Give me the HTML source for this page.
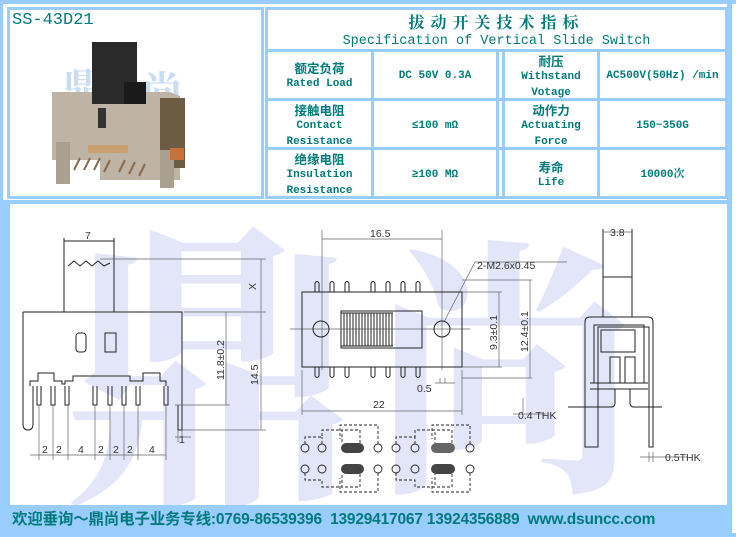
<!DOCTYPE html>
<html><head><meta charset="utf-8"><style>
html,body{margin:0;padding:0}
body{width:736px;height:537px;background:#fff;position:relative;overflow:hidden;font-family:"Liberation Mono","Noto Sans CJK SC",monospace;color:#007a7a}
.b{position:absolute;background:#99ccff}
.t{position:absolute;text-align:center;font-weight:bold;font-size:11px;line-height:16px;font-family:"Liberation Mono","Noto Serif CJK SC",monospace}
.c{display:inline-block;height:16px;line-height:16px;font-size:12.5px;font-family:"Noto Sans CJK SC",sans-serif;vertical-align:top}
</style></head><body>
<div class="b" style="left:0;top:0;width:736px;height:4px"></div>
<div class="b" style="left:0;top:0;width:3px;height:537px"></div>
<div class="b" style="left:727px;top:0;width:5px;height:537px"></div>
<div class="b" style="left:0;top:533px;width:736px;height:4px"></div>
<div class="b" style="left:7px;top:7px;width:3px;height:192px"></div>
<div class="b" style="left:7px;top:7px;width:257px;height:3px"></div>
<div class="b" style="left:7px;top:196px;width:257px;height:3px"></div>
<div class="b" style="left:261px;top:7px;width:3px;height:192px"></div>
<div class="b" style="left:265px;top:7px;width:3px;height:192px"></div>
<div class="b" style="left:265px;top:7px;width:462px;height:3px"></div>
<div class="b" style="left:265px;top:49px;width:462px;height:3px"></div>
<div class="b" style="left:265px;top:98px;width:462px;height:3px"></div>
<div class="b" style="left:265px;top:147px;width:462px;height:3px"></div>
<div class="b" style="left:265px;top:196px;width:462px;height:3px"></div>
<div class="b" style="left:371px;top:49px;width:3px;height:150px"></div>
<div class="b" style="left:496px;top:49px;width:3px;height:150px"></div>
<div class="b" style="left:502px;top:49px;width:3px;height:150px"></div>
<div class="b" style="left:597px;top:49px;width:3px;height:150px"></div>
<div class="b" style="left:725px;top:7px;width:3px;height:192px"></div>
<div class="b" style="left:3px;top:200px;width:726px;height:4px"></div>
<div class="b" style="left:3px;top:200px;width:7px;height:333px"></div>
<div class="b" style="left:3px;top:505px;width:726px;height:28px"></div>

<div style="position:absolute;left:12px;top:11px;font-size:17px;line-height:20px;font-family:'Liberation Mono',monospace;color:#007a7a">SS-43D21</div>
<svg style="position:absolute;left:10px;top:10px" width="250" height="186">
<text x="52" y="92" font-size="40" fill="#c8dcf2" font-family="Noto Serif CJK SC,serif" font-weight="bold">鼎</text>
<text x="132" y="95" font-size="40" fill="#c8dcf2" font-family="Noto Serif CJK SC,serif" font-weight="bold">尚</text>
<polygon points="42,82 160,82 170,86 170,170 90,170 90,150 42,150" fill="#bdb4a6"/>
<rect x="150" y="88" width="25" height="70" fill="#6d5c44"/>
<rect x="82" y="32" width="45" height="62" fill="#2a2a2a"/>
<rect x="114" y="72" width="22" height="22" fill="#1a1a1a"/>
<rect x="88" y="98" width="8" height="20" fill="#333"/>
<rect x="46" y="132" width="14" height="42" fill="#a9a090"/>
<rect x="150" y="140" width="14" height="38" fill="#a9a090"/>
<rect x="78" y="135" width="40" height="8" fill="#c9a070"/>
<rect x="160" y="138" width="14" height="12" fill="#c8703a"/>
<path d="M70 148 l-6 12 M80 148 l-6 12 M90 148 l-6 12 M100 150 l-6 12 M115 150 l-6 12 M125 152 l-6 12 M135 154 l-6 12" stroke="#8a6a4a" stroke-width="2"/>
</svg>

<div class="t" style="left:268px;top:12px;width:457px;font-size:16px;letter-spacing:6px;line-height:20px;font-family:'Noto Serif CJK SC','Noto Sans CJK SC',serif">拔动开关技术指标</div>
<div class="t" style="left:268px;top:34px;width:457px;font-size:13.5px;font-weight:normal;line-height:16px">Specification of Vertical Slide Switch</div>

<div class="t" style="left:268px;top:60px;width:103px"><span class="c">额定负荷</span><br>Rated Load</div>
<div class="t" style="left:374px;top:68px;width:122px">DC 50V 0.3A</div>
<div class="t" style="left:505px;top:53px;width:92px"><span class="c">耐压</span><br>Withstand<br>Votage</div>
<div class="t" style="left:600px;top:68px;width:125px">AC500V(50Hz) /min</div>

<div class="t" style="left:268px;top:102px;width:103px"><span class="c">接触电阻</span><br>Contact<br>Resistance</div>
<div class="t" style="left:374px;top:118px;width:122px">≤100 mΩ</div>
<div class="t" style="left:505px;top:102px;width:92px"><span class="c">动作力</span><br>Actuating<br>Force</div>
<div class="t" style="left:600px;top:118px;width:125px">150~350G</div>

<div class="t" style="left:268px;top:151px;width:103px"><span class="c">绝缘电阻</span><br>Insulation<br>Resistance</div>
<div class="t" style="left:374px;top:167px;width:122px">≥100 MΩ</div>
<div class="t" style="left:505px;top:159px;width:92px"><span class="c">寿命</span><br>Life</div>
<div class="t" style="left:600px;top:167px;width:125px">10000次</div>

<svg style="position:absolute;left:10px;top:204px" width="717" height="301" viewBox="10 204 717 301" font-family="Liberation Sans,sans-serif" font-size="11">
<text x="60" y="480" font-size="300" fill="#e3e5f9" font-family="Noto Serif CJK SC,serif" font-weight="bold">鼎</text>
<text x="370" y="470" font-size="270" fill="#e3e5f9" font-family="Noto Serif CJK SC,serif" font-weight="bold">尚</text>
<g fill="none" stroke="#222" stroke-width="1">
<path d="M64 238v74M114 238v74M64 241h50M68 266l6-5 6 5 6-5 6 5 6-5 6 5 6-3"/>
<path d="M23 312h159v118h-4v-25M23 312v112q0 6 5 6 5 0 5-6v-38"/>
<rect x="76" y="333" width="10" height="19" rx="3"/><rect x="105" y="333" width="11" height="19"/>
<path d="M30 386v-5h8v-8h16v8h8v3h3v-3h8v-5h57v5h13v-8h17v8h6v5"/>
<path d="M37 386v19h4v-19M51 386v19h4v-19M65 386v19h4v-19M93 386v19h4v-19M108 386v19h4v-19M122 386v19h4v-19M136 386v19h4v-19M164 386v19h4v-19"/>
<g stroke="#666" stroke-width=".7"><path d="M100 259h166M184 312h82M175 405h55M182 430h84M226 312v93M261 259v171M30 455h136M39 405v55M53 405v55M68 405v55M95 405v55M110 405v55M124 405v55M138 405v55M166 405v55M175 437h16M182 430v12M178 430v12"/></g>
<g stroke="#666" stroke-width=".7"><path d="M322 230v140M442 230v140M322 239h120M302 370v45M462 370v45M302 411h160M290 329h180"/><path d="M462 280h70M462 292h40M462 367h40M462 378h70M499 292v75M530 280v98M444 322l31-60h92M440 383v-5M445 383v-5M435 383h20"/></g>
<rect x="302" y="292" width="160" height="75"/>
<circle cx="321" cy="329" r="8"/><circle cx="442" cy="329" r="8"/>
<rect x="341" y="311" width="81" height="37"/>
<path d="M344 313v33M347 313v33M350 313v33M353 313v33M356 313v33M359 313v33M362 313v33M365 313v33M368 313v33M371 313v33M374 313v33M377 313v33M380 313v33M383 313v33M386 313v33M389 313v33M392 313v33M341 313h52M341 346h52"/>
<path d="M315 292v-9q2-3 4 0v9M330 292v-9q2-3 4 0v9M345 292v-9q2-3 4 0v9M371 292v-9q2-3 4 0v9M386 292v-9q2-3 4 0v9M401 292v-9q2-3 4 0v9M416 292v-9q2-3 4 0v9"/>
<path d="M315 367v9q2 3 4 0v-9M330 367v9q2 3 4 0v-9M345 367v9q2 3 4 0v-9M371 367v9q2 3 4 0v-9M386 367v9q2 3 4 0v-9M401 367v9q2 3 4 0v-9M416 367v9q2 3 4 0v-9"/>
<g stroke-width=".9">
<circle cx="305" cy="448" r="4"/><circle cx="322" cy="448" r="4"/><circle cx="378" cy="448" r="4"/>
<circle cx="396" cy="448" r="4"/><circle cx="415" cy="448" r="4"/><circle cx="470" cy="448" r="4"/>
<circle cx="305" cy="469" r="4"/><circle cx="322" cy="469" r="4"/><circle cx="378" cy="469" r="4"/>
<circle cx="396" cy="469" r="4"/><circle cx="415" cy="469" r="4"/><circle cx="470" cy="469" r="4"/>
<path d="M305 444v-7h17v-7h20v13M322 444v-7M360 443v-13h-18M378 444v-19h-38v14" stroke-dasharray="3 2"/>
<path d="M396 444v-7h19v-7h20v13M415 444v-7M452 443v-13h-18M470 444v-19h-38v14" stroke-dasharray="3 2"/>
<path d="M305 473v7h17v7h20v-13M360 474v13h-18M378 473v19h-38v-14" stroke-dasharray="3 2"/>
<path d="M396 473v7h19v7h20v-13M452 474v13h-18M470 473v19h-38v-14" stroke-dasharray="3 2"/>
</g>
<path d="M603 229v88M632 229v88M603 277h29"/>
<path d="M585 447v-125q0-5 5-5h58q5 0 5 5v125h-4v-120h-51v120z"/>
<path d="M594 325h50v58h-50zM590 383h58M590 389h58M601 330h34v22h-34zM610 357h10v26h-10zM625 357h10v26h-10z"/>
<path d="M568 407h20M615 389v14q0 4-4 4h-23M630 389v14q0 4 4 4h28"/>
<g stroke="#666" stroke-width=".7"><path d="M603 232h29M546 414h-33M523 398v15M649 452v10M653 452v10M640 457h48"/></g>
</g>
<g fill="#444">
<rect x="341" y="443" width="23" height="10" rx="5"/><rect x="341" y="464" width="23" height="10" rx="5"/>
<rect x="431" y="443" width="24" height="10" rx="5" fill="#666"/><rect x="431" y="464" width="24" height="10" rx="5"/>
</g>
<g fill="#333" font-size="10.5">
<text x="85" y="239">7</text>
<text x="256" y="290" transform="rotate(-90 256 290)">X</text>
<text x="224" y="380" transform="rotate(-90 224 380)">11.8±0.2</text>
<text x="258" y="385" transform="rotate(-90 258 385)">14.5</text>
<text x="42" y="453">2</text><text x="56" y="453">2</text><text x="78" y="453">4</text><text x="98" y="453">2</text><text x="113" y="453">2</text><text x="127" y="453">2</text><text x="149" y="453">4</text><text x="179" y="443">1</text>
<text x="370" y="237">16.5</text>
<text x="477" y="269">2-M2.6x0.45</text>
<text x="497" y="350" transform="rotate(-90 497 350)">9.3±0.1</text>
<text x="528" y="352" transform="rotate(-90 528 352)">12.4±0.1</text>
<text x="417" y="392">0.5</text>
<text x="373" y="408">22</text>
<text x="610" y="236">3.8</text>
<text x="518" y="419">0.4  THK</text>
<text x="665" y="461">0.5THK</text>
</g>
</svg>
<div style="position:absolute;left:12px;top:509px;height:22px;line-height:22px;font-family:'Liberation Sans','Noto Sans CJK SC',sans-serif;font-weight:bold;font-size:15.5px;color:#007a7a;white-space:nowrap;letter-spacing:-0.2px">欢迎垂询～鼎尚电子业务专线:0769-86539396&nbsp; 13929417067 13924356889&nbsp; www.dsuncc.com</div>
</body></html>
